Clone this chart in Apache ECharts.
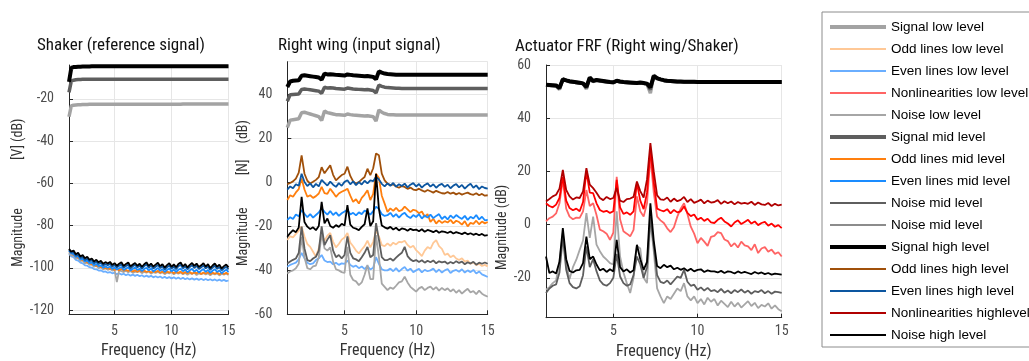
<!DOCTYPE html>
<html>
<head>
<meta charset="utf-8">
<script src="https://cdn.jsdelivr.net/npm/echarts@6/dist/echarts.min.js"></script>
<style>
  html, body { margin: 0; padding: 0; background: #fff; }
  #chart { width: 1029px; height: 361px; }
</style>
</head>
<body>
<div id="chart"></div>
<script>
// frequency grid (Hz)
var freq = [1.0,1.2,1.4,1.6,1.8,2.0,2.2,2.4,2.6,2.8,
  3.0,3.2,3.4,3.6,3.8,4.0,4.2,4.4,4.6,4.8,
  5.0,5.2,5.4,5.6,5.8,6.0,6.2,6.4,6.6,6.8,
  7.0,7.2,7.4,7.6,7.8,8.0,8.2,8.4,8.6,8.8,
  9.0,9.2,9.4,9.6,9.8,10.0,10.2,10.4,10.6,10.8,
  11.0,11.2,11.4,11.6,11.8,12.0,12.2,12.4,12.6,12.8,
  13.0,13.2,13.4,13.6,13.8,14.0,14.2,14.4,14.6,14.8,
  15.0];

// ---- Shaker (reference signal), dB
var shakerSignalLow = [-28.5,-23.4,-23.0,-22.9,-22.8,-22.8,-22.7,-22.7,-22.7,-22.6,
  -22.6,-22.6,-22.6,-22.6,-22.6,-22.6,-22.6,-22.6,-22.6,-22.6,
  -22.6,-22.6,-22.6,-22.6,-22.6,-22.6,-22.6,-22.6,-22.6,-22.6,
  -22.6,-22.6,-22.6,-22.6,-22.6,-22.6,-22.6,-22.6,-22.6,-22.6,
  -22.6,-22.6,-22.6,-22.6,-22.6,-22.6,-22.6,-22.6,-22.6,-22.6,
  -22.5,-22.5,-22.5,-22.5,-22.5,-22.5,-22.5,-22.5,-22.5,-22.5,
  -22.5,-22.5,-22.5,-22.5,-22.5,-22.5,-22.5,-22.5,-22.5,-22.5,
  -22.5];
var shakerSignalMid = [-17.0,-11.6,-11.2,-11.0,-10.9,-10.9,-10.8,-10.8,-10.8,-10.8,
  -10.8,-10.8,-10.8,-10.8,-10.8,-10.8,-10.8,-10.8,-10.8,-10.8,
  -10.8,-10.8,-10.8,-10.8,-10.8,-10.8,-10.8,-10.8,-10.8,-10.8,
  -10.8,-10.8,-10.8,-10.8,-10.8,-10.8,-10.8,-10.8,-10.8,-10.8,
  -10.8,-10.8,-10.8,-10.8,-10.8,-10.8,-10.8,-10.8,-10.8,-10.8,
  -10.8,-10.8,-10.8,-10.8,-10.8,-10.8,-10.8,-10.8,-10.8,-10.8,
  -10.8,-10.8,-10.8,-10.8,-10.8,-10.8,-10.8,-10.8,-10.8,-10.8,
  -10.8];
var shakerSignalHigh = [-12.0,-5.4,-5.0,-4.9,-4.8,-4.8,-4.7,-4.7,-4.7,-4.7,
  -4.6,-4.6,-4.6,-4.6,-4.6,-4.6,-4.6,-4.6,-4.6,-4.6,
  -4.6,-4.6,-4.6,-4.6,-4.6,-4.6,-4.6,-4.6,-4.6,-4.6,
  -4.6,-4.6,-4.6,-4.6,-4.6,-4.6,-4.6,-4.6,-4.6,-4.6,
  -4.6,-4.6,-4.6,-4.6,-4.6,-4.6,-4.6,-4.6,-4.6,-4.6,
  -4.6,-4.6,-4.6,-4.6,-4.6,-4.6,-4.6,-4.6,-4.6,-4.6,
  -4.6,-4.6,-4.6,-4.6,-4.6,-4.6,-4.6,-4.6,-4.6,-4.6,
  -4.6];
var shakerEvenLow = [-93.2,-94.6,-95.0,-96.2,-96.6,-97.5,-97.9,-98.8,-99.0,-99.7,
  -99.9,-100.6,-100.7,-101.3,-101.2,-101.9,-101.7,-102.3,-102.0,-102.6,
  -102.3,-103.0,-102.6,-103.2,-102.8,-103.5,-103.0,-103.7,-103.2,-103.8,
  -103.3,-104.0,-103.5,-104.2,-103.7,-104.3,-103.8,-104.5,-104.0,-104.6,
  -104.1,-104.8,-104.3,-104.9,-104.4,-105.0,-104.5,-105.2,-104.6,-105.3,
  -104.7,-105.4,-104.9,-105.5,-105.0,-105.6,-105.1,-105.7,-105.2,-105.8,
  -105.3,-105.9,-105.4,-106.0,-105.5,-106.1,-105.6,-106.2,-105.7,-106.3,
  -106.0];
var shakerNoiseLow = [-93.0,-94.2,-94.0,-95.6,-95.3,-96.8,-96.5,-97.9,-97.4,-98.6,
  -98.4,-99.5,-99.0,-100.2,-99.6,-100.8,-100.1,-101.0,-100.5,-101.3,
  -101.0,-106.8,-101.2,-101.6,-102.0,-101.4,-102.1,-101.5,-102.4,-101.8,
  -102.0,-101.6,-102.5,-101.9,-102.3,-101.7,-102.8,-102.0,-102.4,-101.9,
  -102.6,-102.1,-103.0,-102.2,-102.7,-102.0,-103.1,-102.3,-102.8,-102.2,
  -103.0,-102.4,-103.3,-102.5,-102.9,-102.3,-103.4,-102.6,-103.0,-102.5,
  -103.2,-102.6,-103.5,-102.7,-103.1,-102.6,-103.6,-102.8,-103.2,-102.7,
  -103.4];
var shakerOddMid = [-92.4,-93.0,-94.0,-94.5,-95.2,-95.6,-96.5,-96.6,-97.5,-97.6,
  -98.4,-98.4,-99.1,-98.9,-99.8,-99.6,-100.3,-100.1,-100.5,-100.2,
  -101.0,-100.6,-101.2,-100.5,-101.3,-100.9,-101.5,-101.0,-101.7,-101.1,
  -101.8,-101.2,-101.9,-101.3,-102.0,-101.5,-102.2,-101.6,-102.0,-101.4,
  -102.3,-101.7,-102.5,-101.8,-102.2,-101.6,-102.6,-101.9,-102.4,-101.8,
  -102.7,-102.0,-102.5,-101.9,-102.8,-102.1,-102.6,-102.0,-102.9,-102.2,
  -102.7,-102.1,-103.0,-102.3,-102.8,-102.2,-103.1,-102.4,-102.9,-102.3,
  -103.0];
var shakerEvenMid = [-92.0,-93.2,-93.5,-94.8,-94.5,-96.0,-95.8,-97.0,-96.6,-97.8,
  -97.5,-98.7,-98.2,-99.2,-98.8,-99.9,-99.3,-100.0,-99.4,-100.5,
  -99.9,-100.8,-100.2,-99.6,-101.0,-100.3,-99.8,-101.3,-100.5,-99.9,
  -101.0,-100.4,-101.6,-100.6,-100.0,-101.2,-100.4,-101.7,-100.9,-100.1,
  -101.4,-100.7,-102.0,-101.0,-100.3,-101.7,-100.8,-101.9,-100.9,-100.4,
  -101.6,-100.8,-102.1,-101.2,-100.5,-101.8,-100.9,-102.2,-101.3,-100.6,
  -101.9,-101.0,-102.4,-101.4,-100.7,-102.0,-101.2,-102.6,-101.6,-100.9,
  -102.0];
var shakerEvenHigh = [-91.6,-92.8,-92.6,-94.2,-93.8,-95.3,-94.9,-96.3,-95.7,-96.9,
  -96.5,-97.8,-97.1,-98.2,-97.6,-98.9,-98.2,-98.8,-98.1,-99.4,
  -98.7,-99.8,-99.0,-98.4,-99.9,-99.1,-98.5,-100.2,-99.3,-98.6,
  -99.8,-99.0,-100.4,-99.2,-98.4,-100.0,-99.0,-100.3,-99.5,-98.7,
  -100.1,-99.3,-100.8,-99.7,-98.9,-100.4,-99.4,-100.6,-99.2,-98.6,
  -100.2,-99.2,-100.7,-99.6,-98.8,-100.1,-99.0,-100.6,-99.8,-98.9,
  -100.3,-99.3,-101.0,-99.9,-99.0,-100.5,-99.6,-101.2,-100.2,-99.5,
  -100.7];
var shakerNoiseHigh = [-91.0,-92.3,-91.8,-93.6,-92.9,-94.6,-94.0,-95.5,-94.8,-96.2,
  -95.6,-97.0,-96.2,-97.4,-96.7,-98.1,-97.3,-98.0,-97.2,-98.6,
  -97.8,-99.0,-98.1,-97.4,-99.1,-98.2,-97.5,-99.3,-98.4,-97.7,
  -99.0,-98.1,-99.5,-98.3,-97.4,-99.1,-98.0,-99.4,-98.5,-97.6,
  -99.2,-98.3,-99.9,-98.7,-97.8,-99.5,-98.4,-99.7,-98.2,-97.5,
  -99.3,-98.2,-99.8,-98.6,-97.7,-99.1,-98.0,-99.6,-98.8,-97.8,
  -99.4,-98.3,-100.1,-98.9,-97.9,-99.5,-98.5,-100.3,-99.2,-98.4,
  -99.8];

// ---- Right wing (input signal), dB
var wingSignalLow = [25.0,28.4,28.6,28.8,29.0,31.8,32.0,31.6,31.2,30.8,
  30.4,30.0,28.2,32.6,31.8,31.5,31.2,30.9,30.8,30.7,
  30.6,31.2,30.9,30.7,30.6,30.5,30.4,30.3,30.4,30.2,
  30.0,28.0,33.0,32.0,31.4,31.0,30.9,30.8,30.7,30.7,
  30.7,30.7,30.7,30.7,30.7,30.7,30.7,30.7,30.7,30.7,
  30.7,30.7,30.7,30.7,30.7,30.7,30.7,30.7,30.7,30.7,
  30.7,30.7,30.7,30.7,30.7,30.7,30.7,30.7,30.7,30.7,
  30.7];
var wingSignalMid = [37.0,40.0,40.1,40.2,40.3,42.4,42.6,42.4,42.2,42.0,
  41.8,41.6,40.6,43.4,43.0,43.1,43.0,42.8,42.7,42.6,
  42.5,43.0,42.8,42.6,42.5,42.4,42.3,42.2,42.3,42.1,
  41.9,40.8,44.4,43.8,43.4,43.2,43.1,43.0,42.9,42.9,
  42.8,42.8,42.8,42.8,42.8,42.8,42.8,42.8,42.8,42.8,
  42.8,42.8,42.8,42.8,42.8,42.8,42.8,42.8,42.8,42.8,
  42.8,42.8,42.8,42.8,42.8,42.8,42.8,42.8,42.8,42.8,
  42.8];
var wingSignalHigh = [43.5,46.0,46.3,46.4,46.5,48.6,48.8,48.6,48.4,48.2,
  48.0,47.8,46.8,49.6,49.2,49.3,49.2,49.0,48.9,48.8,
  48.7,49.2,49.0,48.8,48.7,48.6,48.5,48.4,48.5,48.3,
  48.1,47.0,50.6,50.0,49.6,49.4,49.3,49.2,49.1,49.1,
  49.1,49.1,49.1,49.1,49.1,49.1,49.1,49.1,49.1,49.1,
  49.1,49.1,49.1,49.1,49.1,49.1,49.1,49.1,49.1,49.1,
  49.1,49.1,49.1,49.1,49.1,49.1,49.1,49.1,49.1,49.1,
  49.1];
var wingOddLow = [-26.2,-24.5,-25.0,-23.4,-22.0,-20.0,-24.6,-28.0,-29.3,-31.5,
  -33.8,-30.0,-24.0,-26.5,-24.2,-23.0,-27.0,-29.5,-28.0,-26.0,
  -25.0,-23.0,-27.4,-29.0,-31.0,-32.3,-30.5,-29.0,-26.5,-29.5,
  -27.0,-22.0,-24.5,-28.5,-29.0,-27.7,-28.8,-27.4,-28.2,-27.0,
  -27.2,-26.5,-28.4,-29.6,-28.8,-30.8,-32.0,-33.5,-31.0,-29.4,
  -30.2,-27.5,-26.2,-29.0,-30.2,-33.0,-32.4,-34.0,-33.2,-34.6,
  -35.3,-34.5,-36.0,-35.5,-37.0,-36.4,-37.6,-37.0,-38.0,-37.5,
  -38.2];
var wingEvenLow = [-38.4,-37.5,-37.0,-36.5,-35.0,-32.0,-34.5,-36.5,-37.2,-36.8,
  -35.3,-34.5,-33.0,-35.5,-36.2,-36.0,-37.2,-36.5,-37.5,-36.8,
  -37.0,-35.5,-37.5,-38.4,-37.8,-39.0,-38.2,-39.4,-38.0,-39.6,
  -38.8,-34.0,-37.0,-39.5,-40.0,-40.0,-39.2,-40.4,-39.0,-40.6,
  -39.4,-38.5,-40.2,-39.2,-40.8,-40.0,-39.3,-40.9,-39.8,-40.4,
  -40.0,-39.2,-40.8,-39.6,-41.0,-40.0,-39.4,-41.2,-40.2,-39.8,
  -40.6,-39.5,-41.0,-40.0,-40.8,-39.8,-41.4,-40.5,-41.8,-42.4,
  -43.0];
var wingNoiseLow = [-41.4,-40.5,-40.0,-39.0,-37.0,-24.7,-34.0,-39.0,-39.5,-38.2,
  -37.8,-34.0,-23.3,-30.0,-31.0,-29.5,-36.0,-39.5,-40.0,-40.8,
  -41.2,-29.3,-42.0,-44.4,-45.0,-46.7,-45.5,-42.0,-37.5,-44.0,
  -44.0,-24.0,-34.0,-46.0,-47.5,-49.0,-47.8,-48.4,-47.0,-45.5,
  -45.0,-42.9,-45.5,-47.5,-48.6,-49.7,-48.2,-47.5,-49.0,-48.0,
  -47.4,-48.8,-47.6,-49.2,-48.0,-49.0,-48.2,-49.6,-48.6,-50.2,
  -49.0,-50.6,-49.4,-48.4,-50.0,-49.4,-50.8,-49.2,-50.6,-51.4,
  -52.0];
var wingOddMid = [-8.0,-5.8,-6.5,-4.5,-3.0,1.8,-3.2,-6.5,-5.8,-7.0,
  -6.2,-5.0,-2.0,-4.8,-5.2,-2.8,-4.6,-6.5,-5.0,-4.2,
  -3.6,-2.8,-6.0,-8.8,-7.6,-9.6,-7.0,-5.5,-3.5,-8.0,
  -5.2,4.0,2.0,-6.0,-9.6,-13.4,-11.8,-12.9,-11.5,-13.0,
  -12.6,-11.0,-12.2,-13.5,-12.4,-12.8,-14.0,-13.2,-15.6,-14.4,
  -17.9,-16.5,-18.7,-17.2,-18.4,-17.6,-18.2,-17.0,-18.6,-17.4,
  -18.0,-19.2,-17.6,-20.0,-18.4,-18.8,-17.4,-19.0,-17.8,-18.6,
  -18.0];
var wingEvenMid = [-17.0,-15.8,-16.6,-14.6,-15.4,-12.6,-14.2,-15.8,-14.4,-16.0,
  -14.8,-13.6,-11.8,-13.4,-14.6,-13.0,-14.8,-13.6,-15.2,-14.0,
  -13.2,-12.4,-14.6,-13.8,-15.0,-13.6,-14.4,-12.8,-13.4,-14.6,
  -13.0,-11.0,-12.0,-14.4,-15.2,-14.9,-13.8,-15.6,-14.4,-16.0,
  -14.6,-13.8,-15.4,-16.2,-14.8,-15.7,-14.4,-16.4,-15.0,-16.0,
  -14.6,-16.2,-15.2,-14.4,-16.6,-15.4,-16.8,-15.0,-16.2,-14.8,
  -15.8,-16.6,-15.2,-17.0,-15.6,-16.4,-14.8,-16.8,-15.6,-17.2,
  -17.0];
var wingNoiseMid = [-36.9,-36.0,-35.2,-34.6,-32.0,-20.1,-30.0,-35.3,-35.8,-34.6,
  -33.8,-31.0,-20.0,-28.5,-26.0,-24.0,-31.0,-34.0,-33.0,-34.5,
  -33.0,-24.5,-32.0,-34.5,-35.0,-35.8,-34.0,-32.0,-29.3,-34.0,
  -33.0,-18.5,-26.0,-34.0,-35.3,-35.3,-34.6,-35.6,-34.2,-33.0,
  -32.0,-29.3,-33.5,-35.0,-35.8,-35.3,-36.2,-35.4,-36.5,-35.6,
  -36.3,-35.5,-36.8,-35.9,-36.4,-36.0,-37.0,-36.2,-36.8,-35.8,
  -36.6,-36.0,-37.2,-36.3,-36.9,-36.1,-37.4,-36.5,-37.0,-36.4,
  -37.0];
var wingOddHigh = [-0.8,-0.2,0.5,1.8,4.5,12.4,4.0,0.8,-0.5,0.3,
  1.2,2.5,7.0,4.2,6.0,7.8,3.5,1.0,2.2,3.4,
  4.0,7.2,3.0,0.5,-0.5,0.2,1.4,2.5,6.3,3.3,
  6.5,13.2,12.4,4.0,1.0,-0.5,-1.2,-0.8,-1.8,-2.4,
  -1.6,-2.0,-2.9,-2.3,-3.2,-3.5,-2.8,-3.6,-4.2,-3.4,
  -4.0,-4.6,-3.8,-4.4,-4.9,-5.0,-4.3,-5.1,-4.6,-5.4,
  -4.8,-5.5,-5.0,-4.6,-5.3,-5.6,-4.9,-5.8,-5.2,-6.0,
  -5.8];
var wingEvenHigh = [-3.2,-1.8,-2.6,-0.8,-1.5,4.0,0.2,-1.6,-0.4,-2.2,
  -0.6,-1.8,1.2,-0.2,-1.4,0.4,-1.0,-2.0,-0.3,-1.5,
  0.3,1.0,-0.8,0.5,-1.2,0.2,-0.9,0.8,-0.4,1.0,
  0.6,2.6,1.4,-0.6,-1.8,-0.4,-1.5,-0.2,-1.9,-0.8,
  -1.6,-0.5,-2.2,-1.0,-0.3,-1.8,-0.7,-2.3,-1.1,-0.4,
  -1.9,-0.8,-2.4,-1.2,-0.6,-2.0,-1.0,-2.6,-1.4,-0.7,
  -2.2,-1.1,-2.8,-1.5,-0.6,-2.4,-1.3,-3.0,-1.8,-2.5,
  -2.8];
var wingNoiseHigh = [-24.7,-23.0,-21.7,-22.6,-20.5,-6.5,-18.0,-20.1,-21.2,-20.4,
  -21.7,-19.8,-8.8,-18.6,-16.4,-19.8,-20.6,-19.4,-20.2,-18.8,
  -19.6,-10.3,-19.2,-20.6,-21.0,-21.7,-20.2,-19.0,-11.8,-19.8,
  -17.6,4.0,-12.0,-19.6,-20.4,-21.0,-20.2,-21.4,-20.6,-21.8,
  -20.9,-21.2,-22.0,-21.1,-21.7,-21.4,-22.2,-21.3,-22.4,-21.6,
  -22.0,-22.6,-21.8,-22.9,-22.2,-22.5,-23.0,-22.3,-23.2,-22.6,
  -23.0,-23.5,-22.8,-23.6,-23.1,-23.8,-23.3,-24.0,-23.4,-24.2,
  -24.0];

// ---- Actuator FRF (Right wing/Shaker), dB
var frfSignalLow = [52.4,52.3,52.2,52.1,50.8,54.8,54.2,53.8,53.6,53.4,
  53.2,53.0,51.0,55.4,53.8,54.2,54.0,53.8,53.6,53.5,
  53.4,54.0,53.7,53.5,53.4,53.3,53.2,53.1,53.3,53.0,
  52.8,49.4,56.2,55.2,54.6,54.2,54.0,53.9,53.8,53.7,
  53.7,53.6,53.6,53.6,53.6,53.6,53.6,53.6,53.6,53.6,
  53.6,53.6,53.6,53.6,53.6,53.6,53.6,53.6,53.6,53.6,
  53.6,53.6,53.6,53.6,53.6,53.6,53.6,53.6,53.6,53.6,
  53.6];
var frfSignalMid = [52.5,52.4,52.3,52.2,51.1,54.7,54.2,53.8,53.6,53.4,
  53.2,53.0,51.4,55.3,53.9,54.3,54.1,53.9,53.7,53.5,
  53.4,54.0,53.7,53.5,53.4,53.3,53.2,53.1,53.3,53.1,
  52.9,50.8,56.0,55.1,54.6,54.2,54.0,53.9,53.8,53.7,
  53.7,53.6,53.6,53.6,53.6,53.6,53.6,53.6,53.6,53.6,
  53.6,53.6,53.6,53.6,53.6,53.6,53.6,53.6,53.6,53.6,
  53.6,53.6,53.6,53.6,53.6,53.6,53.6,53.6,53.6,53.6,
  53.6];
var frfSignalHigh = [52.6,52.5,52.4,52.3,51.4,54.6,54.2,53.9,53.7,53.5,
  53.3,53.1,51.8,55.2,54.0,54.4,54.2,54.0,53.8,53.6,
  53.5,54.1,53.8,53.6,53.5,53.4,53.3,53.2,53.4,53.2,
  53.0,51.6,55.8,55.0,54.6,54.3,54.1,54.0,53.9,53.8,
  53.8,53.7,53.7,53.7,53.7,53.6,53.6,53.6,53.6,53.6,
  53.6,53.6,53.6,53.6,53.6,53.6,53.6,53.6,53.6,53.6,
  53.6,53.6,53.6,53.6,53.6,53.6,53.6,53.6,53.6,53.6,
  53.6];
var frfNonlinLow = [1.2,2.4,3.0,4.2,8.0,16.8,6.0,3.0,2.0,2.6,
  2.5,5.0,13.0,7.0,8.0,3.6,-1.9,-2.5,-3.4,-5.7,
  -3.0,18.0,2.0,-2.5,-3.4,-4.4,-2.0,10.6,5.0,3.0,
  8.0,25.6,12.0,3.0,1.6,0.6,-1.4,-2.8,-1.0,3.0,
  6.0,8.0,4.0,-0.8,-3.4,-7.0,-5.0,-6.4,-8.0,-4.6,
  -4.2,-2.8,-3.2,-5.6,-6.2,-8.2,-7.0,-8.6,-6.4,-7.8,
  -8.2,-9.6,-7.4,-10.7,-9.0,-8.4,-10.2,-9.4,-11.0,-10.4,
  -12.0];
var frfNoiseLow = [-24.5,-23.5,-22.0,-21.0,-14.0,-3.2,-15.0,-20.5,-16.0,-13.2,
  -9.5,-6.0,4.3,-5.0,3.0,-7.5,-10.0,-12.0,-13.2,-14.5,
  -15.0,5.0,-12.0,-18.0,-22.0,-25.7,-20.0,-8.0,-9.0,-20.0,
  -22.0,1.8,-10.0,-24.0,-27.0,-29.5,-27.0,-28.0,-26.0,-24.0,
  -25.0,-22.0,-27.0,-28.5,-27.0,-29.5,-28.0,-30.0,-27.5,-29.0,
  -28.0,-30.4,-28.6,-29.8,-31.0,-29.0,-30.8,-29.4,-31.2,-30.0,
  -28.8,-30.6,-29.4,-31.4,-30.2,-30.8,-29.6,-31.6,-30.4,-31.8,
  -32.6];
var frfNonlinMid = [8.0,7.0,6.5,7.5,10.0,18.0,9.0,6.2,5.4,6.0,
  5.0,8.5,20.0,12.0,11.8,8.0,5.5,4.8,5.2,4.4,
  5.0,16.8,6.5,4.0,4.6,3.7,5.0,15.6,9.0,5.8,
  12.0,28.1,16.0,6.0,5.4,5.0,5.8,4.2,5.5,4.6,
  5.0,6.8,4.4,3.2,3.8,1.8,2.6,1.4,2.2,0.8,
  0.6,1.8,2.6,1.2,0.4,-0.7,0.8,1.6,0.2,1.0,
  1.8,0.4,1.2,-0.2,0.6,1.0,-0.4,0.4,-0.8,-0.2,
  -1.3];
var frfNoiseMid = [-25.7,-24.0,-23.0,-22.5,-18.0,-4.5,-17.0,-22.0,-23.5,-24.0,
  -23.2,-19.0,-8.2,-16.0,-13.0,-17.5,-21.0,-22.5,-23.0,-22.0,
  -20.0,-11.0,-19.5,-22.0,-23.0,-22.5,-19.0,-12.0,-15.0,-20.0,
  -16.0,3.0,-8.0,-19.0,-21.5,-22.0,-21.0,-22.5,-21.0,-19.5,
  -20.0,-17.0,-21.5,-23.0,-22.6,-24.5,-23.6,-24.8,-23.8,-25.0,
  -24.6,-25.4,-24.2,-25.6,-24.8,-25.8,-24.6,-25.4,-24.4,-25.6,
  -24.8,-26.0,-25.0,-25.4,-24.6,-25.8,-25.0,-26.0,-25.2,-25.4,
  -25.7];
var frfNonlinHigh = [8.7,9.6,10.6,11.2,13.5,20.6,13.0,10.6,9.4,10.2,
  10.0,12.5,21.2,15.0,13.7,12.0,10.0,9.2,10.4,9.6,
  10.0,13.8,9.0,8.5,9.6,9.8,10.4,16.2,12.6,10.2,
  17.0,30.6,20.0,11.0,9.5,9.3,10.2,8.6,9.8,8.8,
  9.3,10.4,8.5,9.6,8.2,8.7,9.4,8.0,9.0,8.3,
  8.5,9.2,7.8,8.8,8.0,8.7,7.6,8.5,7.9,8.2,
  7.8,8.6,7.4,8.3,7.6,7.4,8.1,7.0,7.8,7.2,
  7.5];
var frfNoiseHigh = [-12.0,-18.2,-17.6,-18.4,-14.0,-1.3,-13.0,-17.4,-18.0,-17.2,
  -17.0,-14.5,-4.5,-13.0,-12.0,-15.0,-17.2,-16.6,-17.8,-16.8,
  -17.6,-5.7,-16.0,-17.6,-16.8,-18.0,-17.2,-7.6,-13.0,-17.0,
  -14.0,8.0,-6.0,-15.6,-16.4,-15.1,-16.0,-15.4,-16.8,-16.2,
  -17.0,-16.4,-17.4,-16.6,-17.6,-17.0,-16.8,-17.8,-17.2,-17.6,
  -17.6,-18.0,-17.4,-18.2,-17.6,-17.8,-18.4,-17.6,-18.2,-17.8,
  -18.2,-18.6,-17.8,-18.4,-18.0,-18.6,-18.2,-18.8,-18.4,-18.6,
  -18.8];

// legend entries, as printed in the figure
var legendNames = ['Signal low level', 'Odd lines low level', 'Even lines low level',
  'Nonlinearities low level', 'Noise low level', 'Signal mid level', 'Odd lines mid level',
  'Even lines mid level', 'Noise mid level', 'Noise mid level ', 'Signal high level',
  'Odd lines high level', 'Even lines high level', 'Nonlinearities highlevel', 'Noise high level'];

var C = {
  sigLow: '#a3a3a3', oddLow: '#ffc896', evenLow: '#6aaeff', nlLow: '#ff6464', noiseLow: '#a6a6a6',
  sigMid: '#5e5e5e', oddMid: '#ff7f0e', evenMid: '#1a8cff', nlMid: '#ff0000', noiseMid: '#5e5e5e',
  sigHigh: '#000000', oddHigh: '#a0500a', evenHigh: '#0c56a0', nlHigh: '#b00000', noiseHigh: '#000000'
};

var font = "'Liberation Sans Narrow', 'Roboto Condensed', 'Liberation Sans', sans-serif";
var thin = 1.8;

function line(name, grid, vals, color, width) {
  return {
    name: name, type: 'line', xAxisIndex: grid, yAxisIndex: grid,
    symbol: 'none', silent: true,
    lineStyle: { color: color, width: width },
    itemStyle: { color: color },
    data: freq.map(function (f, i) { return [f, vals[i]]; })
  };
}

var series = [
  // shaker
  line('Signal low level', 0, shakerSignalLow, C.sigLow, 3.5),
  line('Even lines low level', 0, shakerEvenLow, C.evenLow, thin),
  line('Noise low level', 0, shakerNoiseLow, C.noiseLow, thin),
  line('Signal mid level', 0, shakerSignalMid, C.sigMid, 3.5),
  line('Odd lines mid level', 0, shakerOddMid, C.oddMid, thin),
  line('Even lines mid level', 0, shakerEvenMid, C.evenMid, thin),
  line('Signal high level', 0, shakerSignalHigh, C.sigHigh, 4),
  line('Even lines high level', 0, shakerEvenHigh, C.evenHigh, thin),
  line('Noise high level', 0, shakerNoiseHigh, C.noiseHigh, thin),
  // right wing
  line('Signal low level', 1, wingSignalLow, C.sigLow, 3.5),
  line('Odd lines low level', 1, wingOddLow, C.oddLow, thin),
  line('Even lines low level', 1, wingEvenLow, C.evenLow, thin),
  line('Noise low level', 1, wingNoiseLow, C.noiseLow, thin),
  line('Signal mid level', 1, wingSignalMid, C.sigMid, 3.5),
  line('Odd lines mid level', 1, wingOddMid, C.oddMid, thin),
  line('Even lines mid level', 1, wingEvenMid, C.evenMid, thin),
  line('Noise mid level', 1, wingNoiseMid, C.noiseMid, thin),
  line('Signal high level', 1, wingSignalHigh, C.sigHigh, 4),
  line('Odd lines high level', 1, wingOddHigh, C.oddHigh, thin),
  line('Even lines high level', 1, wingEvenHigh, C.evenHigh, thin),
  line('Noise high level', 1, wingNoiseHigh, C.noiseHigh, thin),
  // actuator FRF
  line('Signal low level', 2, frfSignalLow, C.sigLow, 3.5),
  line('Nonlinearities low level', 2, frfNonlinLow, C.nlLow, thin),
  line('Noise low level', 2, frfNoiseLow, C.noiseLow, thin),
  line('Signal mid level', 2, frfSignalMid, C.sigMid, 3.5),
  line('Noise mid level ', 2, frfNonlinMid, C.nlMid, thin),
  line('Noise mid level', 2, frfNoiseMid, C.noiseMid, thin),
  line('Signal high level', 2, frfSignalHigh, C.sigHigh, 4),
  line('Nonlinearities highlevel', 2, frfNonlinHigh, C.nlHigh, thin),
  line('Noise high level', 2, frfNoiseHigh, C.noiseHigh, thin)
];

function xAx(grid, labelMargin, nameGap) {
  return {
    type: 'value', gridIndex: grid, min: 1, max: 15, splitNumber: 3,
    name: 'Frequency (Hz)', nameLocation: 'middle', nameGap: nameGap,
    nameTextStyle: { fontFamily: font, fontSize: 16, color: '#333' },
    axisLine: { onZero: false, lineStyle: { color: '#262626' } },
    axisTick: { inside: true, length: 4, lineStyle: { color: '#262626' } },
    axisLabel: { showMinLabel: false, fontFamily: font, fontSize: 14, color: '#4d4d4d', margin: labelMargin },
    splitLine: { show: true, lineStyle: { color: '#e6e6e6' } }
  };
}
function yAx(grid, min, max, name, gap, shift, showMin, showMax) {
  return {
    type: 'value', gridIndex: grid, min: min, max: max, splitNumber: 5,
    name: name, nameLocation: 'middle', nameGap: gap,
    nameTextStyle: { fontFamily: font, fontSize: 14, color: '#333', padding: [0, shift, 0, 0] },
    axisLine: { show: true, onZero: false, lineStyle: { color: '#262626' } },
    axisTick: { show: true, inside: true, length: 4, lineStyle: { color: '#262626' } },
    axisLabel: { showMinLabel: showMin, showMaxLabel: showMax, fontFamily: font, fontSize: 14,
      color: '#4d4d4d', margin: 15, padding: [0, 0, 5, 0] },
    splitLine: { show: true, lineStyle: { color: '#e6e6e6' } }
  };
}

var legendData = legendNames.map(function (n) {
  var isSignal = n.indexOf('Signal') === 0;
  var item = { name: n, lineStyle: { width: isSignal ? 4 : 1.8 } };
  if (n === 'Noise mid level ') item.lineStyle.color = '#8c8c8c';
  return item;
});

var chart = echarts.init(document.getElementById('chart'), null, { renderer: 'canvas' });
chart.setOption({
  animation: false,
  backgroundColor: '#fff',
  title: [
    { text: 'Shaker (reference signal)', left: 37, top: 37, padding: 0,
      textStyle: { fontFamily: font, fontSize: 17, fontWeight: 'normal', color: '#111' } },
    { text: 'Right wing (input signal)', left: 278, top: 37, padding: 0,
      textStyle: { fontFamily: font, fontSize: 17, fontWeight: 'normal', color: '#111' } },
    { text: 'Actuator FRF (Right wing/Shaker)', left: 515, top: 38, padding: 0,
      textStyle: { fontFamily: font, fontSize: 17, fontWeight: 'normal', color: '#111' } }
  ],
  legend: {
    orient: 'vertical', left: 822, top: 12, padding: [8, 6, 5, 6],
    borderColor: '#8c8c8c', borderWidth: 1, backgroundColor: '#fff',
    itemWidth: 56, itemHeight: 14, itemGap: 8.0,
    itemStyle: { opacity: 0 },
    textStyle: { fontFamily: "'Liberation Sans', Arial, sans-serif", fontSize: 13.5, color: '#000' },
    selectedMode: false,
    data: legendData
  },
  grid: [
    { left: 69, top: 65, width: 159.5, height: 249.3, outerBoundsMode: 'none' },
    { left: 287.3, top: 61.7, width: 200.4, height: 252.6, outerBoundsMode: 'none' },
    { left: 546, top: 65, width: 235.7, height: 252.7, outerBoundsMode: 'none' }
  ],
  xAxis: [xAx(0, 10, 29), xAx(1, 10, 29), xAx(2, 7, 26)],
  yAxis: [
    yAx(0, -122, -4, 'Magnitude               [V] (dB)', 38, 6, false, false),
    yAx(1, -60, 55, 'Magnitude          [N]     (dB)', 37, 10, true, false),
    yAx(2, -35, 60, 'Magnitude (dB)', 29, 72, false, true)
  ],
  series: series
});
</script>
</body>
</html>
